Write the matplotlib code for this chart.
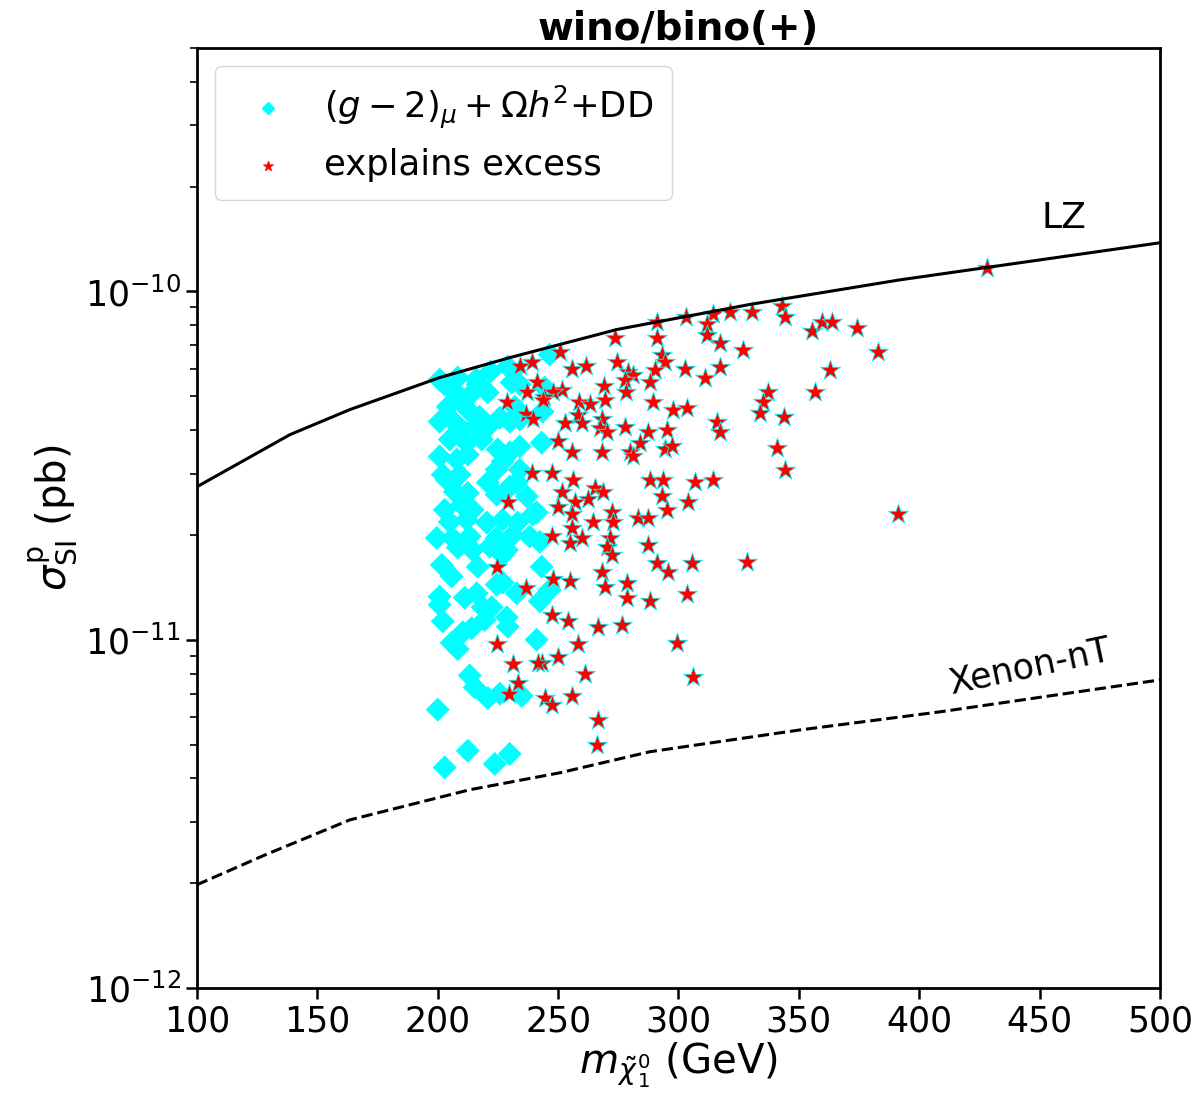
import numpy as np
import matplotlib
matplotlib.use("Agg")
import matplotlib.pyplot as plt

# ---- data (sigma in units of 1e-11 pb) ----
cyan_mass = [202.9, 206.2, 216.6, 214.5, 220.8, 230.7, 234.1, 231.2, 229.1, 204.2,
             210.4, 212.5, 217.4, 200.8, 207.1, 210.0, 215.4, 220.4, 225.8, 232.0,
             234.1, 229.9, 243.6, 243.2, 205.0, 212.0, 218.3, 224.9, 229.9, 234.1,
             200.8, 207.9, 212.5, 227.0, 234.1, 202.1, 209.1, 224.5,
             203.7, 207.1, 212.5, 220.8, 224.5, 232.8, 237.0, 202.9, 210.0, 214.5,
             205.0, 212.0, 220.4, 227.0, 233.2, 239.5, 199.6, 206.2, 213.3, 224.5,
             231.2, 238.2, 242.4, 208.3, 214.5, 221.6, 227.0, 201.7, 205.8, 216.6,
             243.2, 200.8, 211.2, 216.2, 224.5, 232.8, 242.4, 218.7,
             200.8, 222.4, 202.1, 214.1, 219.5, 228.7, 229.1, 210.4, 205.8, 208.3,
             241.1, 213.3, 215.4, 220.8, 225.8, 234.9, 200.0, 212.5, 223.7, 229.9,
             202.9, 229.9, 241.1, 228.7, 227.0, 246.5,
             200.8, 208.3, 216.0, 222.0, 246.5, 244.4]
cyan_sigma = [5.41, 5.23, 5.41, 5.13, 5.13, 5.48, 5.41, 5.89, 6.09, 4.67,
              4.80, 4.58, 4.37, 4.23, 4.20, 4.01, 4.09, 4.06, 4.34, 4.67,
              4.29, 4.23, 4.52, 3.68, 3.76, 3.68, 3.76, 3.52, 3.45, 3.59,
              3.36, 3.29, 3.40, 3.25, 3.08, 2.98, 2.98, 3.08,
              2.88, 2.66, 2.64, 2.83, 2.61, 2.83, 2.58, 2.36, 2.44, 2.36,
              2.18, 2.21, 2.17, 2.21, 2.17, 2.29, 1.96, 1.96, 1.98, 1.96,
              2.00, 1.98, 1.91, 1.84, 1.81, 1.85, 1.75, 1.64, 1.52, 1.62,
              1.62, 1.33, 1.32, 1.36, 1.44, 1.36, 1.29, 1.24,
              1.26, 1.24, 1.13, 1.08, 1.14, 1.16, 1.09, 1.05, 0.98, 0.94,
              1.00, 0.79, 0.73, 0.68, 0.70, 0.69, 0.63, 0.48, 0.44, 0.47,
              0.43, 2.75, 2.32, 1.81, 1.46, 1.39,
              5.58, 5.66, 5.60, 5.90, 6.59, 5.30]

red_mass = [291.0, 303.0, 273.5, 291.0, 250.7, 293.0, 294.3, 274.4, 255.7, 261.5,
            278.9, 281.0, 290.1, 302.6, 288.1, 277.7, 269.0, 278.1, 251.5, 247.8,
            244.0, 269.4, 258.6, 263.2, 289.3, 297.6, 303.4, 252.8, 258.2, 259.8,
            268.2, 267.4, 270.2, 277.7, 287.2, 295.1, 249.9, 283.9, 294.3, 297.2,
            255.7, 268.2, 279.8,
            281.0, 247.4, 256.1, 251.5, 265.3, 268.6, 288.1, 293.5, 306.8, 293.0,
            262.4, 249.9, 256.9, 255.7, 272.3, 272.7, 264.4, 283.1, 287.2, 295.1,
            303.9, 247.4, 255.7, 254.8, 259.8, 271.5, 270.2, 272.3, 287.2, 291.0,
            295.5, 305.5, 268.2, 247.8, 254.8, 269.4, 278.5, 278.5, 288.1, 303.4,
            247.4,
            254.0, 266.5, 276.4, 299.3, 258.2, 249.9, 243.2, 261.1, 305.9, 244.4,
            247.4, 255.7, 266.5, 266.1,
            234.1, 239.0, 241.1, 237.0, 228.7, 243.6, 236.6, 239.5, 239.0,
            229.1, 224.5, 236.6,
            224.5, 231.2, 241.5, 233.2, 229.5,
            314.3, 321.4, 330.5, 342.9, 344.2, 311.8, 311.8, 317.2, 326.8, 355.4,
            359.6, 363.7, 374.1, 382.8, 310.9, 317.2, 362.9, 337.2, 335.1, 333.9,
            356.7, 315.9, 317.2, 343.8, 340.9, 344.2, 314.3, 391.1, 428.0, 328.5]
red_sigma = [8.15, 8.42, 7.33, 7.33, 6.72, 6.59, 6.29, 6.29, 6.01, 6.13,
             5.89, 5.77, 5.97, 6.01, 5.51, 5.58, 5.37, 5.13, 5.23, 5.16,
             4.99, 4.89, 4.83, 4.74, 4.83, 4.58, 4.64, 4.20, 4.43, 4.20,
             4.29, 4.06, 3.94, 4.09, 3.96, 3.99, 3.71, 3.68, 3.52, 3.59,
             3.45, 3.47, 3.45,
             3.36, 3.02, 2.88, 2.66, 2.73, 2.66, 2.88, 2.88, 2.84, 2.58,
             2.53, 2.40, 2.48, 2.29, 2.33, 2.18, 2.18, 2.24, 2.24, 2.36,
             2.48, 1.98, 2.10, 1.90, 1.96, 1.96, 1.85, 1.75, 1.87, 1.66,
             1.57, 1.66, 1.57, 1.49, 1.47, 1.42, 1.46, 1.32, 1.29, 1.35,
             1.18,
             1.13, 1.09, 1.10, 0.98, 0.97, 0.89, 0.86, 0.80, 0.78, 0.68,
             0.65, 0.69, 0.59, 0.50,
             6.13, 6.29, 5.48, 5.16, 4.83, 4.89, 4.46, 4.29, 3.02,
             2.49, 1.62, 1.41,
             0.97, 0.85, 0.86, 0.75, 0.70,
             8.59, 8.76, 8.76, 9.06, 8.42, 8.04, 7.52, 7.13, 6.81, 7.68,
             8.20, 8.15, 7.88, 6.72, 5.66, 6.09, 5.97, 5.13, 4.83, 4.49,
             5.16, 4.23, 3.96, 4.37, 3.56, 3.08, 2.88, 2.30, 11.7, 1.67]

lz_mass = [100, 138.6, 163.5, 200.8, 230.0, 274.5, 329.7, 392.0, 500]
lz_sigma = [2.75, 3.88, 4.58, 5.66, 6.46, 7.78, 9.18, 10.8, 13.8]

xenon_mass = [100, 128.2, 163.5, 213.3, 250.7, 288.1, 350.5, 408.6, 500]
xenon_sigma = [0.198, 0.241, 0.304, 0.371, 0.415, 0.477, 0.551, 0.621, 0.767]

unit = 1e-11

fig = plt.figure(figsize=(11.98, 11.02), dpi=100)
ax = fig.add_axes([0.1644, 0.1034, 0.8039, 0.853])

ax.plot(lz_mass, np.array(lz_sigma) * unit, color='black', lw=2.2)
ax.plot(xenon_mass, np.array(xenon_sigma) * unit, color='black', lw=2.2, ls='--')

ax.scatter(cyan_mass, np.array(cyan_sigma) * unit, marker='D', s=150,
           color='cyan', edgecolors='none', label=r'$(g-2)_\mu+\Omega h^2$+DD')
ax.scatter(red_mass, np.array(red_sigma) * unit, marker='*', s=230,
           color='red', edgecolors='cyan', linewidths=0.6, label='explains excess')

ax.text(460, 16.3 * unit, 'LZ', fontsize=26, ha='center', va='center')
ax.text(446, 0.84 * unit, 'Xenon-nT', fontsize=25, ha='center', va='center', rotation=12)

ax.set_yscale('log')
ax.set_xlim(100, 500)
ax.set_ylim(1e-12, 5e-10)
ax.set_xticks([100, 150, 200, 250, 300, 350, 400, 450, 500])
ax.set_yticks([1e-12, 1e-11, 1e-10])
ax.tick_params(axis='both', which='major', labelsize=25, length=8, width=1.8)
ax.tick_params(axis='both', which='minor', length=5, width=1.2)
for sp in ax.spines.values():
    sp.set_linewidth(2)

ax.set_xlabel(r'$m_{\tilde\chi^0_1}$ (GeV)', fontsize=29, labelpad=2)
ax.set_ylabel(r'$\sigma^{\rm p}_{\rm SI}$ (pb)', fontsize=29, labelpad=4)
ax.set_title('wino/bino(+)', fontsize=28, fontweight='bold', pad=4)

leg = ax.legend(loc='upper left', fontsize=25.5, markerscale=0.5, borderpad=0.5,
                handletextpad=0.6, labelspacing=0.5)
for h in leg.legend_handles:
    h.set_edgecolor(h.get_facecolor())

fig.savefig('out.png', dpi=100)
